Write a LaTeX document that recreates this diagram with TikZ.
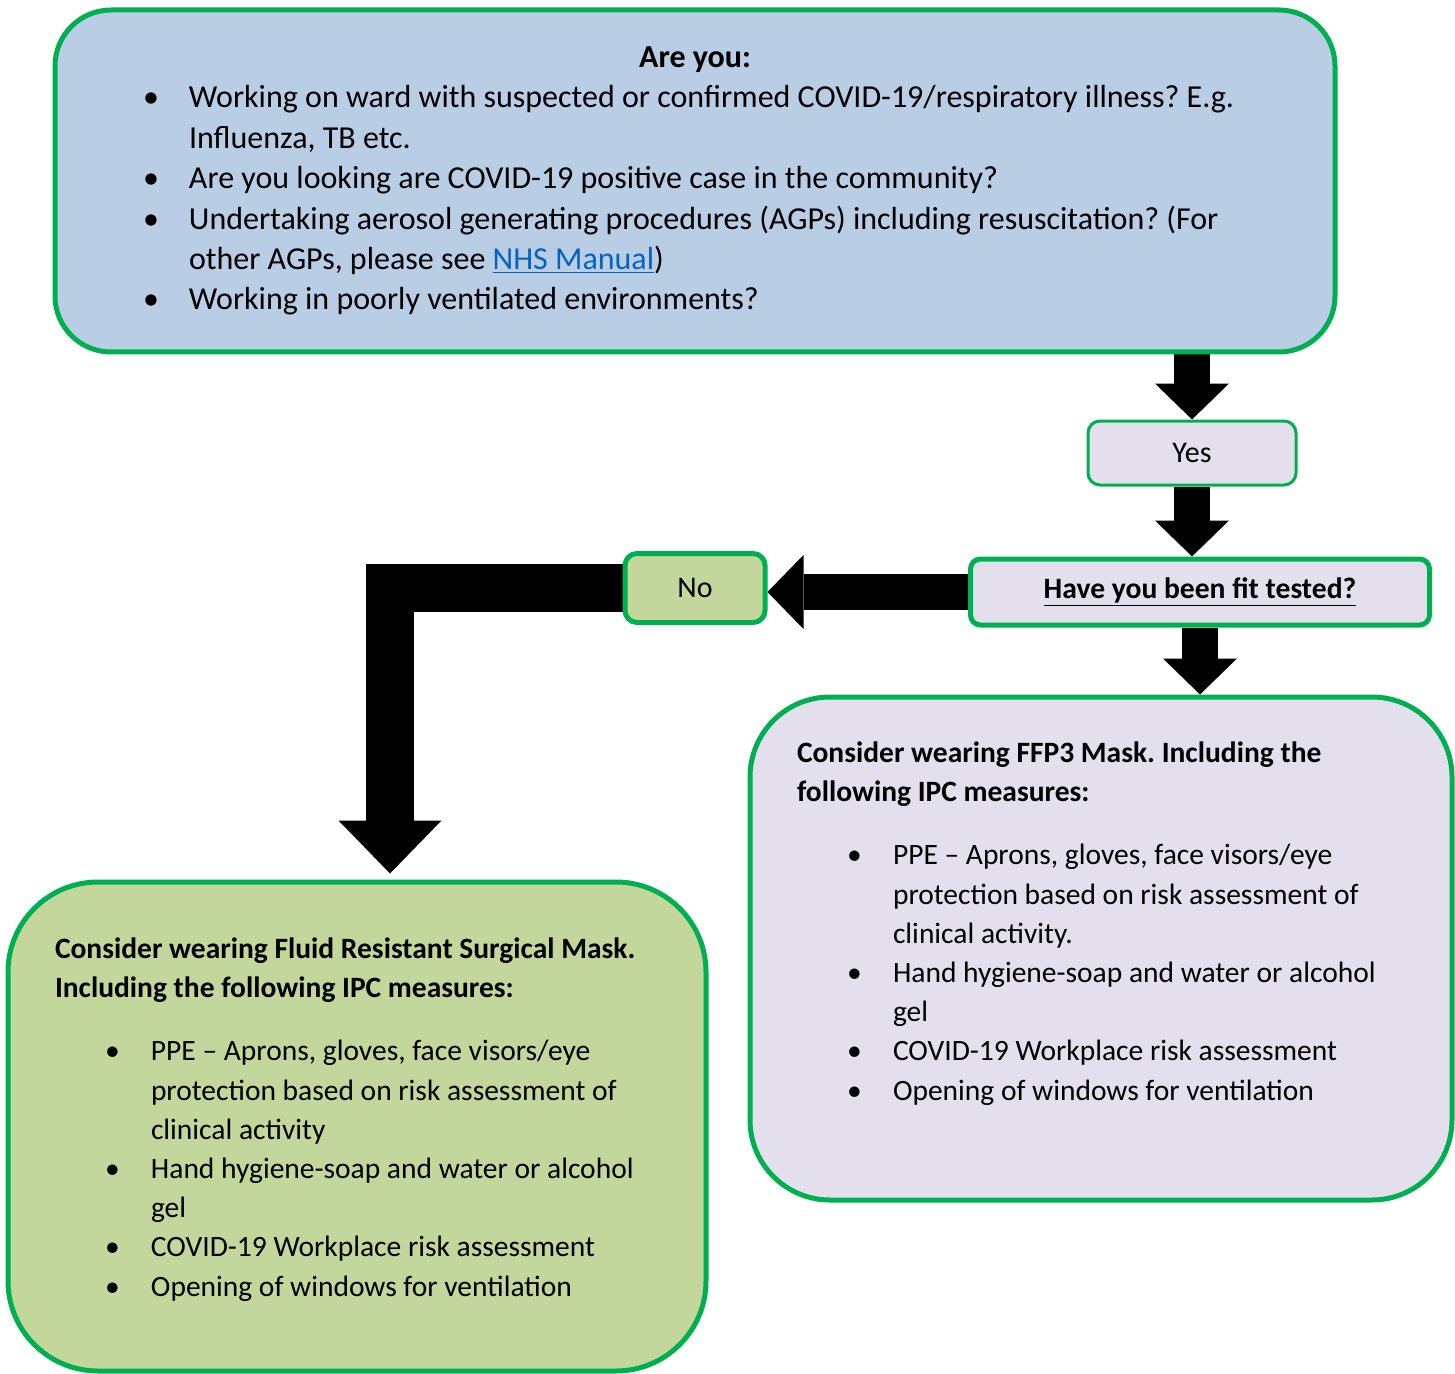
\documentclass[tikz,border=0pt]{standalone}
\usepackage{fontspec}
\setmainfont{Carlito}
\usetikzlibrary{arrows.meta,backgrounds}

\definecolor{boxgreen}{HTML}{00B050}
\definecolor{boxblue}{HTML}{B9CDE5}
\definecolor{boxlilac}{HTML}{E4DFEC}
\definecolor{boxolive}{HTML}{C3D69B}
\definecolor{linkblue}{HTML}{0563C1}

% bullet line: indent, text
\newcommand{\bpoint}[2]{\par\leftskip=#1\hangindent=23pt\hangafter=1\noindent\makebox[23pt][l]{\textbullet}#2\par}

\tikzset{
    flowbox/.style={draw=boxgreen, line width=2.5pt, rounded corners=#1, align=flush left,
        font=\fontsize{14.75}{19.6}\selectfont\frenchspacing},
    flowbox/.default=6pt,
    blockarrow/.style={line width=18pt, -{Triangle[width=37pt,length=18pt,line width=0pt]}},
    bigarrow/.style={line width=24pt, line join=miter, -{Triangle[width=51.5pt,length=26.5pt,line width=0pt]}},
}

\begin{document}
\begin{tikzpicture}[x=0.5pt,y=-0.5pt]
    \useasboundingbox (0,0) rectangle (1455,1374);

    % Question box
    \node[flowbox=28pt, fill=boxblue, minimum width=640pt, minimum height=171pt,
          text width=552pt, inner xsep=44pt, font=\fontsize{16}{20.2}\selectfont\frenchspacing] (ask) at (695,181) {%
        {\centering\textbf{Are you:}\par}
        \bpoint{0pt}{Working on ward with suspected or confirmed COVID-19/respiratory illness? E.g.\newline Influenza, TB etc.}
        \bpoint{0pt}{Are you looking are COVID-19 positive case in the community?}
        \bpoint{0pt}{Undertaking aerosol generating procedures (AGPs) including resuscitation? (For\newline other AGPs, please see \textcolor{linkblue}{\underline{NHS Manual}})}
        \bpoint{0pt}{Working in poorly ventilated environments?}};

    % Yes / fit test / No
    \node[flowbox, line width=1.5pt, fill=boxlilac, minimum width=104pt, minimum height=32pt, align=center,
          font=\fontsize{15}{18}\selectfont] (yes) at (1192,453) {Yes};
    \node[flowbox=5pt, fill=boxlilac, minimum width=229.5pt, minimum height=33pt, align=center,
          font=\fontsize{14.8}{18}\selectfont] (fit) at (1200,592) {\textbf{\underline{Have you been fit tested?}}};
    \node[flowbox, fill=boxolive, minimum width=70pt, minimum height=34.5pt, align=center,
          font=\fontsize{15}{18}\selectfont] (no) at (695,588) {No};

    % FFP3 box
    \node[flowbox=40pt, fill=boxlilac, minimum width=351pt, minimum height=251.5pt,
          text width=304pt, inner xsep=23.5pt] (ffp) at (1101,948.5) {%
        \textbf{Consider wearing FFP3 Mask. Including the\newline following IPC measures:}\par\vspace{12pt}
        \bpoint{25pt}{PPE – Aprons, gloves, face visors/eye\newline protection based on risk assessment of\newline clinical activity.}
        \bpoint{25pt}{Hand hygiene-soap and water or alcohol\newline gel}
        \bpoint{25pt}{COVID-19 Workplace risk assessment}
        \bpoint{25pt}{Opening of windows for ventilation}
        \par\kern25pt};

    % FRSM box
    \node[flowbox=45pt, fill=boxolive, minimum width=349pt, minimum height=244.5pt,
          text width=302pt, inner xsep=23.5pt] (frsm) at (357,1126.5) {%
        \textbf{Consider wearing Fluid Resistant Surgical Mask.\newline Including the following IPC measures:}\par\vspace{12pt}
        \bpoint{25pt}{PPE – Aprons, gloves, face visors/eye\newline protection based on risk assessment of\newline clinical activity}
        \bpoint{25pt}{Hand hygiene-soap and water or alcohol\newline gel}
        \bpoint{25pt}{COVID-19 Workplace risk assessment}
        \bpoint{25pt}{Opening of windows for ventilation}
        \par\kern7pt};

    % Arrows
    \begin{pgfonlayer}{background}
        \draw[blockarrow] (ask.south -| yes.north) -- (yes.north);
        \draw[blockarrow] (yes.south) -- (yes.south |- fit.north);
        \draw[blockarrow] (fit.south) -- (fit.south |- ffp.north);
        \draw[blockarrow] (fit.west) -- (fit.west -| no.east);
        \draw[bigarrow, shorten >=3pt] (no.west) -| ([xshift=16.5pt]frsm.north);
    \end{pgfonlayer}
\end{tikzpicture}
\end{document}
